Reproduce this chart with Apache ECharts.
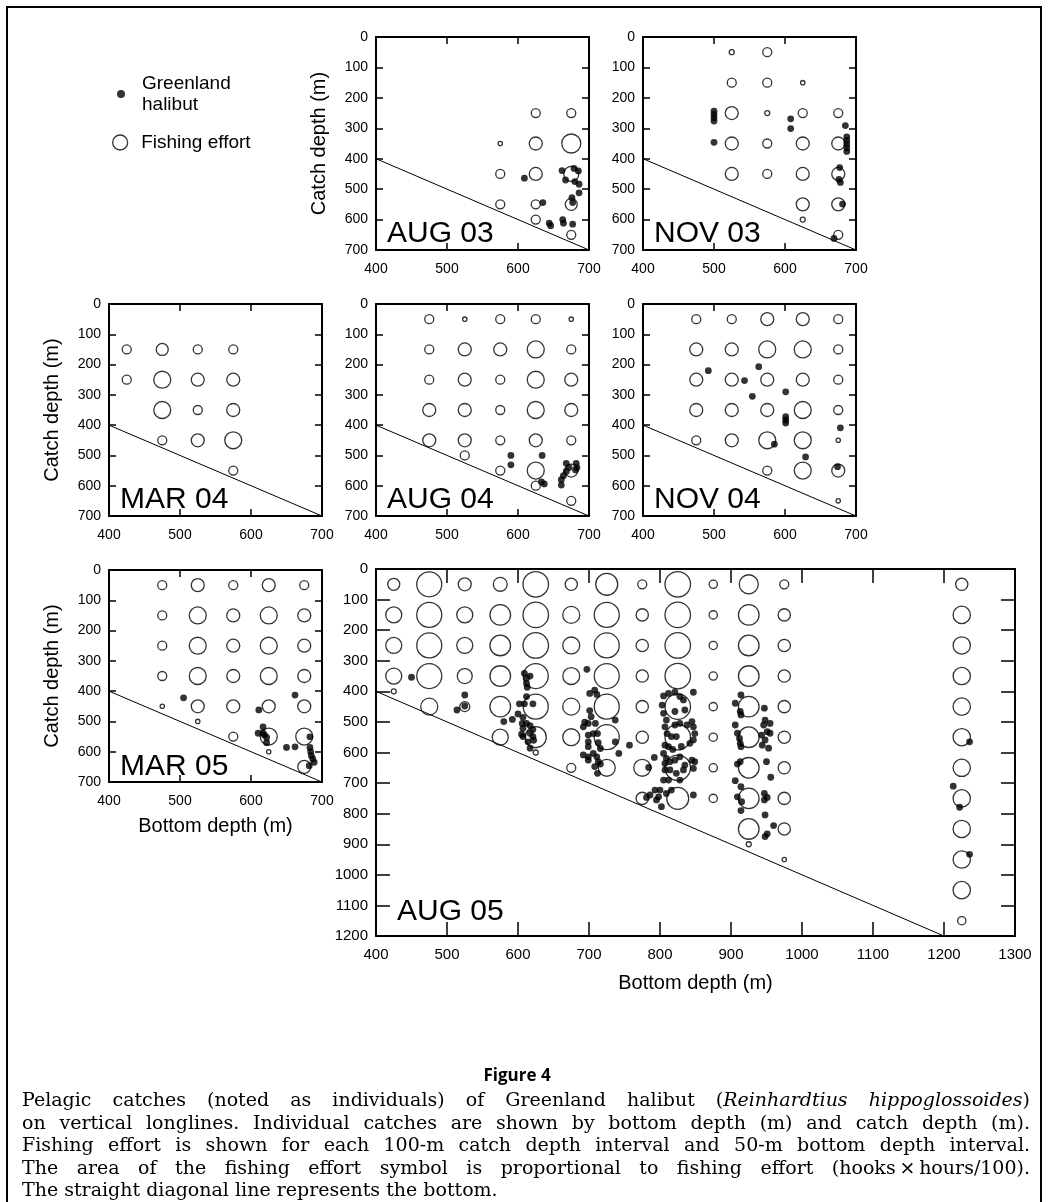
<!DOCTYPE html>
<html><head><meta charset="utf-8">
<script src="https://cdn.jsdelivr.net/npm/echarts/dist/echarts.min.js"></script>
<style>html,body{margin:0;padding:0;background:#fff}#c{width:1048px;height:1202px}</style>
</head><body><div id="c"></div>
<script>
// ---------------- DATA ----------------
// Fishing effort: [bottom depth (m), catch depth (m), effort (hooks x hours / 100)]
// Greenland halibut catches: [bottom depth (m), catch depth (m)]
const aug03Effort = [[575,350,3],[575,450,13],[575,550,13],
  [625,250,13],[625,350,27],[625,450,27],[625,550,13],[625,600,13],
  [675,250,13],[675,350,58],[675,450,36],[675,550,23],[675,650,13]];
const aug03Catch = [[609,464],[635,544],[644,612],[646,620],[663,600],[664,612],[677,615],
  [662,439],[667,470],[679,432],[685,440],[686,484],[686,512],[676,528],[677,544],[680,475]];

const nov03Effort = [[525,50,4],[525,150,13],[525,250,27],[525,350,27],[525,450,27],
  [575,50,13],[575,150,13],[575,250,4],[575,350,13],[575,450,13],
  [625,150,3],[625,250,13],[625,350,27],[625,450,27],[625,550,27],[625,600,4],
  [675,250,13],[675,350,27],[675,450,27],[675,550,27],[675,650,13]];
const nov03Catch = [[500,244],[500,254],[500,265],[500,276],[500,346],[608,269],[608,301],
  [685,291],[687,328],[687,340],[687,352],[687,364],[687,376],[677,429],[676,468],[678,478],[681,549],[669,662]];

const mar04Effort = [[425,150,13],[425,250,13],
  [475,150,23],[475,250,46],[475,350,46],[475,450,13],
  [525,150,13],[525,250,27],[525,350,13],[525,450,27],
  [575,150,13],[575,250,27],[575,350,27],[575,450,46],[575,550,13]];
const mar04Catch = [];

const aug04Effort = [[475,50,13],[475,150,13],[475,250,13],[475,350,27],[475,450,27],
  [525,50,3],[525,150,27],[525,250,27],[525,350,27],[525,450,27],[525,500,13],
  [575,50,13],[575,150,27],[575,250,13],[575,350,13],[575,450,13],[575,550,13],
  [625,50,13],[625,150,46],[625,250,46],[625,350,46],[625,450,27],[625,550,46],[625,600,13],
  [675,50,3],[675,150,13],[675,250,27],[675,350,27],[675,450,13],[675,550,27],[675,650,13]];
const aug04Catch = [[590,500],[590,531],[634,500],[633,587],[637,594],[668,526],[682,526],[683,540],
  [668,553],[664,567],[661,580],[661,598],[672,540],[681,548]];

const nov04Effort = [[475,50,13],[475,150,27],[475,250,27],[475,350,27],[475,450,13],
  [525,50,13],[525,150,27],[525,250,27],[525,350,27],[525,450,27],
  [575,50,27],[575,150,46],[575,250,27],[575,350,27],[575,450,46],[575,550,13],
  [625,50,27],[625,150,46],[625,250,27],[625,350,46],[625,450,46],[625,550,46],
  [675,50,13],[675,150,13],[675,250,13],[675,350,13],[675,450,3],[675,550,27],[675,650,3]];
const nov04Catch = [[492,220],[543,253],[563,207],[554,305],[601,290],[601,372],[601,383],[601,393],
  [585,463],[629,505],[678,409],[674,537]];

const mar05Effort = [[475,50,13],[475,150,13],[475,250,13],[475,350,13],[475,450,3],
  [525,50,27],[525,150,46],[525,250,46],[525,350,46],[525,450,27],[525,500,3],
  [575,50,13],[575,150,27],[575,250,27],[575,350,27],[575,450,27],[575,550,13],
  [625,50,27],[625,150,46],[625,250,46],[625,350,46],[625,450,27],[625,550,46],[625,600,3],
  [675,50,13],[675,150,27],[675,250,27],[675,350,27],[675,450,27],[675,550,46],[675,650,27]];
const mar05Catch = [[505,422],[611,462],[662,413],[610,539],[617,539],[617,518],[622,553],[622,570],
  [619,545],[650,586],[662,584],[683,551],[683,586],[684,600],[685,613],[687,624],[689,635],[682,646]];

const aug05Effort = [[425,50,23],[425,150,41],[425,250,41],[425,350,41],[425,400,4],
  [475,50,100],[475,150,100],[475,250,100],[475,350,100],[475,450,46],
  [525,50,27],[525,150,41],[525,250,41],[525,350,36],[525,450,16],
  [575,50,31],[575,150,68],[575,250,68],[575,350,68],[575,450,68],[575,550,41],
  [625,50,104],[625,150,104],[625,250,104],[625,350,100],[625,450,100],[625,550,71],[625,600,4],
  [675,50,24],[675,150,46],[675,250,46],[675,350,46],[675,450,46],[675,550,46],[675,650,13],
  [725,50,77],[725,150,100],[725,250,100],[725,350,100],[725,450,100],[725,550,100],[725,650,46],
  [775,50,13],[775,150,24],[775,250,24],[775,350,24],[775,450,24],[775,550,24],[775,650,46],[775,750,24],
  [825,50,104],[825,150,104],[825,250,104],[825,350,104],[825,450,104],[825,550,104],[825,650,104],[825,750,77],
  [875,50,11],[875,150,11],[875,250,11],[875,350,11],[875,450,11],[875,550,11],[875,650,11],[875,750,11],
  [925,50,58],[925,150,68],[925,250,68],[925,350,68],[925,450,68],[925,550,68],[925,650,68],[925,750,68],[925,850,68],[925,900,4],
  [975,50,13],[975,150,24],[975,250,24],[975,350,24],[975,450,24],[975,550,24],[975,650,24],[975,750,24],[975,850,24],[975,950,3],
  [1225,50,24],[1225,150,48],[1225,250,48],[1225,350,48],[1225,450,48],[1225,550,48],[1225,650,48],
  [1225,750,48],[1225,850,48],[1225,950,48],[1225,1050,48],[1225,1150,11]];
const aug05Catch = [[450,354],[525,412],[514,461],[525,448],
  [609,341],[612,357],[617,350],[612,374],[613,387],[612,417],[609,441],[621,441],[602,441],[600,474],
  [592,492],[580,499],[607,485],[606,505],[612,505],[617,512],[607,521],[621,525],[617,537],[607,548],
  [621,548],[614,565],[622,560],[605,540],[617,586],
  [697,328],[701,407],[708,396],[711,410],[701,463],[703,483],[699,505],[694,501],[709,505],[692,516],
  [706,538],[699,543],[712,538],[699,565],[699,581],[713,568],[716,587],[692,608],[699,614],[706,603],
  [711,614],[713,630],[699,625],[716,638],[708,646],[712,668],[737,494],[742,603],[737,565],[757,576],
  [805,415],[812,407],[803,445],[805,472],[807,516],[810,538],[812,581],[805,603],[807,636],[807,657],
  [805,690],[800,723],[798,745],[793,723],[795,755],[786,739],[781,747],[802,777],[792,616],[784,649],
  [821,403],[828,417],[833,428],[847,403],[821,466],[835,461],[809,494],[821,510],[828,505],[838,510],
  [845,499],[847,516],[849,538],[847,559],[842,570],[816,548],[823,548],[807,576],[809,619],[814,630],
  [821,625],[828,614],[835,641],[845,625],[849,630],[847,652],[814,657],[823,668],[833,657],[812,690],
  [816,723],[847,739],[809,734],[828,690],[818,590],[830,580],
  [914,412],[906,439],[913,466],[914,477],[906,510],[909,537],[912,554],[913,570],[914,581],[947,455],
  [948,494],[955,505],[946,510],[951,532],[943,543],[955,537],[948,559],[944,576],[953,586],[913,630],
  [909,638],[950,630],[956,681],[906,692],[914,712],[909,745],[915,761],[914,790],[947,734],[951,747],
  [947,755],[960,839],[948,804],[951,866],[948,875],
  [1236,565],[1213,710],[1222,779],[1236,933]];

// bottom (catch depth = bottom depth)
const bottomLineSmall = [[400,400],[700,700]];
const bottomLineAug05 = [[400,400],[1200,1200]];

const panelLabels = ['AUG 03','NOV 03','MAR 04','AUG 04','NOV 04','MAR 05','AUG 05'];

const captionTitle = 'Figure 4';
const captionLines = [
  [['Pelagic catches (noted as individuals) of Greenland halibut (', false], ['Reinhardtius hippoglossoides', true], [')', false]],
  [['on vertical longlines. Individual catches are shown by bottom depth (m) and catch depth (m).', false]],
  [['Fishing effort is shown for each 100-m catch depth interval and 50-m bottom depth interval.', false]],
  [['The area of the fishing effort symbol is proportional to fishing effort (hooks\u2009\u00d7\u2009hours/100).', false]],
  [['The straight diagonal line represents the bottom.', false]]
];

// ---------------- LAYOUT ----------------
const SANS = '"Liberation Sans", Arial, Helvetica, sans-serif';
const panels = [
  {effort:aug03Effort, hal:aug03Catch, line:bottomLineSmall, g:[376,37,213,213], xMax:700, yMax:700, yName:true,  xName:false, lab:[387,234]},
  {effort:nov03Effort, hal:nov03Catch, line:bottomLineSmall, g:[643,37,213,213], xMax:700, yMax:700, yName:false, xName:false, lab:[654,234]},
  {effort:mar04Effort, hal:mar04Catch, line:bottomLineSmall, g:[109,304,213,212], xMax:700, yMax:700, yName:true,  xName:false, lab:[120,500]},
  {effort:aug04Effort, hal:aug04Catch, line:bottomLineSmall, g:[376,304,213,212], xMax:700, yMax:700, yName:false, xName:false, lab:[387,500]},
  {effort:nov04Effort, hal:nov04Catch, line:bottomLineSmall, g:[643,304,213,212], xMax:700, yMax:700, yName:false, xName:false, lab:[654,500]},
  {effort:mar05Effort, hal:mar05Catch, line:bottomLineSmall, g:[109,570,213,212], xMax:700, yMax:700, yName:true,  xName:true,  lab:[120,767]},
  {effort:aug05Effort, hal:aug05Catch, line:bottomLineAug05, g:[376,569,639,367], xMax:1300, yMax:1200, yName:false, xName:true, lab:[397,912], big:true}
];

const grids = [], xAxes = [], yAxes = [], series = [];
const axisLine = {show:true, onZero:false, lineStyle:{color:'#000', width:2}};
const plainNum = v => String(v);
panels.forEach((p, i) => {
  grids.push({left:p.g[0], top:p.g[1], width:p.g[2], height:p.g[3]});
  const tl = p.big ? 14 : 7;
  const fs = p.big ? 15 : 14;
  const tick = {show:true, inside:true, length:tl, lineStyle:{color:'#000', width:1.5}};
  const lbl = {color:'#000', fontSize:fs, fontFamily:SANS, formatter:plainNum};
  xAxes.push({type:'value', gridIndex:i, position:'bottom', min:400, max:p.xMax, interval:100,
    axisLine, axisTick:tick, axisLabel:Object.assign({margin:p.big?11:12}, lbl), splitLine:{show:false},
    name: p.xName ? 'Bottom depth (m)' : '', nameLocation:'middle', nameGap: p.big ? 37 : 34,
    nameTextStyle:{color:'#000', fontSize:20, fontFamily:SANS}});
  xAxes.push({type:'value', gridIndex:i, position:'top', min:400, max:p.xMax, interval:100,
    axisLine, axisTick:tick, axisLabel:{show:false}, splitLine:{show:false}});
  yAxes.push({type:'value', gridIndex:i, position:'left', inverse:true, min:0, max:p.yMax, interval:100,
    axisLine, axisTick:tick, axisLabel:Object.assign({margin:8}, lbl), splitLine:{show:false},
    name: p.yName ? 'Catch depth (m)' : '', nameLocation:'middle', nameGap:47,
    nameTextStyle:{color:'#000', fontSize:20, fontFamily:SANS}});
  yAxes.push({type:'value', gridIndex:i, position:'right', inverse:true, min:0, max:p.yMax, interval:100,
    axisLine, axisTick:tick, axisLabel:{show:false}, splitLine:{show:false}});
  const xi = 2*i, yi = 2*i;
  series.push({type:'line', xAxisIndex:xi, yAxisIndex:yi, data:p.line, symbol:'none', silent:true,
    lineStyle:{color:'#000', width:1}, z:1});
  series.push({type:'scatter', name:'Fishing effort', xAxisIndex:xi, yAxisIndex:yi, data:p.effort,
    symbol:'circle', symbolSize: v => 2.5*Math.sqrt(v[2]), silent:true,
    itemStyle:{color:'rgba(255,255,255,0)', borderColor:'#000', borderWidth:1.3}, z:2});
  series.push({type:'scatter', name:'Greenland halibut', xAxisIndex:xi, yAxisIndex:yi, data:p.hal,
    symbol:'circle', symbolSize:6.8, silent:true, itemStyle:{color:'#000'}, z:3});
});

// caption with justified lines
const CAP_FAMILY = '"DejaVu Serif", serif';
const CAP_SIZE = 19;
const capX0 = 22, capX1 = 1030, capY0 = 1101, capDY = 22.6;
const mctx = document.createElement('canvas').getContext('2d');
const fontStr = it => (it ? 'italic ' : '') + CAP_SIZE + 'px ' + CAP_FAMILY;
const measure = (t, it) => { mctx.font = fontStr(it); return mctx.measureText(t).width; };
function lineToWords(segs){
  const words = []; let cur = [];
  segs.forEach(([t, it]) => {
    t.split(' ').forEach((part, idx) => {
      if (idx > 0) { if (cur.length) words.push(cur); cur = []; }
      if (part) cur.push([part, it]);
    });
  });
  if (cur.length) words.push(cur);
  return words;
}
const graphics = [];
graphics.push({type:'polyline', shape:{points:[[7,1202],[7,7],[1041,7],[1041,1202]]}, style:{fill:'none', stroke:'#000', lineWidth:2}, silent:true});
panels.forEach((p, i) => {
  graphics.push({type:'text', x:p.lab[0], y:p.lab[1], silent:true,
    style:{text:panelLabels[i], font:'30px ' + SANS, fill:'#000', align:'left', verticalAlign:'middle', textAlign:'left', textVerticalAlign:'middle'}});
});
graphics.push({type:'text', x:517, y:1076, silent:true,
  style:{text:captionTitle, font:'bold 17px "Open Sans", "Liberation Sans", sans-serif', fill:'#000', align:'center', verticalAlign:'middle', textAlign:'center', textVerticalAlign:'middle'}});
captionLines.forEach((segs, li) => {
  const words = lineToWords(segs);
  const widths = words.map(w => w.reduce((s, [t, it]) => s + measure(t, it), 0));
  const total = widths.reduce((a, b) => a + b, 0);
  const justify = li < captionLines.length - 1;
  const gap = justify ? (capX1 - capX0 - total) / (words.length - 1) : measure(' ', false);
  let x = capX0; const y = capY0 + li * capDY;
  words.forEach((w, wi) => {
    let xx = x;
    w.forEach(([t, it]) => {
      graphics.push({type:'text', x:xx, y:y, silent:true,
        style:{text:t, font:fontStr(it), fill:'#000', align:'left', verticalAlign:'middle', textAlign:'left', textVerticalAlign:'middle'}});
      xx += measure(t, it);
    });
    x += widths[wi] + gap;
  });
});

const chart = echarts.init(document.getElementById('c'), null, {renderer:'canvas'});
chart.setOption({
  animation:false,
  backgroundColor:'#fff',
  grid:grids, xAxis:xAxes, yAxis:yAxes, series:series,
  legend:[
    {data:[{name:'Greenland halibut', icon:'circle'}], left:112, top:68, orient:'vertical',
     itemWidth:32, itemHeight:8, selectedMode:false,
     formatter:() => 'Greenland\nhalibut', textStyle:{color:'#000', fontSize:19, lineHeight:21, fontFamily:SANS}},
    {data:[{name:'Fishing effort', icon:'circle', itemStyle:{color:'#fff', borderColor:'#000', borderWidth:1.3}}],
     left:107, top:128, orient:'vertical', itemWidth:32, itemHeight:15, selectedMode:false,
     textStyle:{color:'#000', fontSize:19, lineHeight:15, fontFamily:SANS}}
  ],
  graphic:{elements:graphics}
});
</script></body></html>
